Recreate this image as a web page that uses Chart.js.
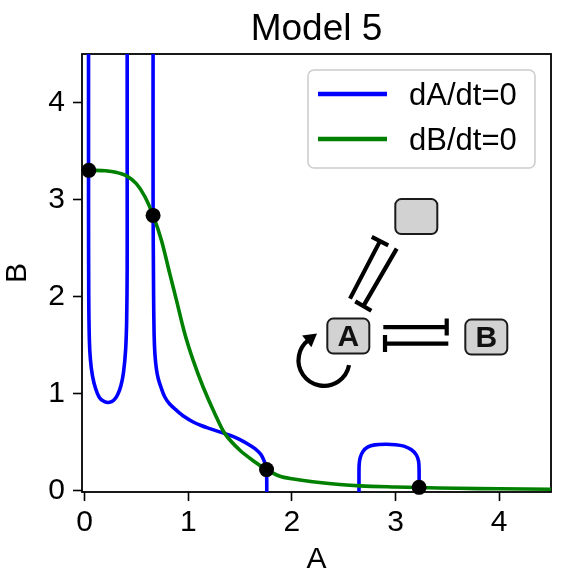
<!DOCTYPE html>
<html>
<head>
<meta charset="utf-8">
<script src="https://cdn.jsdelivr.net/npm/chart.js@4.4.1/dist/chart.umd.min.js"></script>
<style>
  html, body { margin: 0; padding: 0; background: #fff; }
  #wrap { width: 563px; height: 575px; }
</style>
</head>
<body>
<div id="wrap"><canvas id="nullclines"></canvas></div>
<script>
// dA/dt = 0 nullcline, three separate branches
const aBranch1X = [0.037, 0.037, 0.039, 0.045, 0.055, 0.075, 0.105, 0.14, 0.18, 0.22, 0.26, 0.29, 0.32, 0.35, 0.375, 0.395, 0.405, 0.41, 0.41, 0.41];
const aBranch1Y = [4.7, 3.0, 2.0, 1.55, 1.35, 1.18, 1.05, 0.96, 0.92, 0.905, 0.915, 0.94, 0.99, 1.08, 1.22, 1.45, 1.75, 2.3, 3.2, 4.7];

const aBranch2X = [0.66, 0.66, 0.665, 0.67, 0.678, 0.692, 0.71, 0.74, 0.773, 0.82, 0.886, 0.96, 1.047, 1.13, 1.208, 1.28, 1.353, 1.43, 1.498, 1.57, 1.643, 1.7, 1.729, 1.748, 1.755, 1.757, 1.757];
const aBranch2Y = [4.7, 3.0, 2.0, 1.6, 1.4, 1.25, 1.15, 1.05, 0.962, 0.89, 0.825, 0.76, 0.704, 0.665, 0.636, 0.61, 0.584, 0.555, 0.522, 0.48, 0.43, 0.37, 0.309, 0.25, 0.18, 0.08, -0.05];

const aBranch3X = [2.647, 2.647, 2.649, 2.66, 2.685, 2.73, 2.8, 2.9, 3.0, 3.08, 3.15, 3.2, 3.222, 3.227, 3.227];
const aBranch3Y = [-0.05, 0.15, 0.27, 0.34, 0.40, 0.445, 0.468, 0.474, 0.47, 0.455, 0.42, 0.365, 0.3, 0.2, 0.03];

// dB/dt = 0 nullcline
const bNullX = [0.037, 0.1, 0.2, 0.3, 0.4, 0.5, 0.58, 0.66, 0.741, 0.821, 0.886, 0.966, 1.047, 1.143, 1.256, 1.353, 1.498, 1.643, 1.755, 1.884, 2.0, 2.2, 2.46, 2.66, 3.0, 3.227, 3.6, 4.0, 4.5];
const bNullY = [3.30, 3.30, 3.295, 3.28, 3.245, 3.16, 3.03, 2.835, 2.577, 2.234, 1.959, 1.615, 1.34, 1.065, 0.79, 0.584, 0.412, 0.292, 0.213, 0.144, 0.118, 0.088, 0.059, 0.045, 0.034, 0.028, 0.02, 0.015, 0.011];

// fixed points (intersections)
const fixedX = [0.04, 0.66, 1.755, 3.227];
const fixedY = [3.30, 2.835, 0.213, 0.03];

const xTicks = [0, 1, 2, 3, 4];
const yTicks = [0, 1, 2, 3, 4];
const legendLabels = ['dA/dt=0', 'dB/dt=0'];
const titleText = 'Model 5';

const FONT = "'Liberation Sans', Arial, sans-serif";

function pts(xs, ys) {
  return xs.map((x, i) => ({ x: x, y: ys[i] }));
}

function lineSet(label, xs, ys, color, inLegend) {
  return {
    label: label,
    data: pts(xs, ys),
    showLine: true,
    borderColor: color,
    backgroundColor: color,
    borderWidth: 3.6,
    pointRadius: 0,
    tension: 0.3,
    clip: 0,
    order: color === 'blue' ? 2 : 1,
    inLegend: inLegend
  };
}

function roundBox(ctx, cx, cy, w, h, r) {
  const x = cx - w / 2, y = cy - h / 2;
  ctx.beginPath();
  ctx.moveTo(x + r, y);
  ctx.arcTo(x + w, y, x + w, y + h, r);
  ctx.arcTo(x + w, y + h, x, y + h, r);
  ctx.arcTo(x, y + h, x, y, r);
  ctx.arcTo(x, y, x + w, y, r);
  ctx.closePath();
}

// line ending in a flat bar (repression)
function inhibit(ctx, x1, y1, x2, y2, half) {
  const dx = x2 - x1, dy = y2 - y1;
  const len = Math.hypot(dx, dy);
  const nx = -dy / len, ny = dx / len;
  ctx.beginPath();
  ctx.moveTo(x1, y1);
  ctx.lineTo(x2, y2);
  ctx.moveTo(x2 + nx * half, y2 + ny * half);
  ctx.lineTo(x2 - nx * half, y2 - ny * half);
  ctx.stroke();
}

const framePlugin = {
  id: 'frame',
  beforeDatasetsDraw(chart) {
    const { ctx, chartArea: a } = chart;
    ctx.save();
    ctx.strokeStyle = '#000';
    ctx.lineWidth = 1.8;
    ctx.strokeRect(a.left, a.top, a.right - a.left, a.bottom - a.top);
    ctx.restore();
  },
  afterDraw(chart) {
    // title centred over the plot area
    const { ctx, chartArea: a } = chart;
    ctx.save();
    ctx.font = '37px ' + FONT;
    ctx.fillStyle = '#000';
    ctx.textAlign = 'center';
    ctx.textBaseline = 'alphabetic';
    ctx.fillText(titleText, (a.left + a.right) / 2, a.top - 14);
    ctx.restore();
  }
};

const legendBox = {
  id: 'legendBox',
  afterDatasetsDraw(chart) {
    const { ctx, chartArea: a } = chart;
    const sets = legendLabels.map(l => chart.data.datasets.find(d => d.inLegend && d.label === l));
    const left = a.right - 243, top = a.top + 16, w = 227, h = 98;
    ctx.save();
    roundBox(ctx, left + w / 2, top + h / 2, w, h, 6);
    ctx.fillStyle = 'rgba(255,255,255,0.85)';
    ctx.fill();
    ctx.strokeStyle = '#cccccc';
    ctx.lineWidth = 1.5;
    ctx.stroke();
    ctx.font = '31px ' + FONT;
    ctx.textBaseline = 'middle';
    ctx.fillStyle = '#000';
    sets.forEach((d, i) => {
      const y = top + 24 + i * 45;
      ctx.strokeStyle = d.borderColor;
      ctx.lineWidth = 4.5;
      ctx.beginPath();
      ctx.moveTo(left + 10, y);
      ctx.lineTo(left + 79, y);
      ctx.stroke();
      ctx.fillText(d.label, left + 101, y + 2);
    });
    ctx.restore();
  }
};

// network sketch: A auto-activates, A and B repress each other, A and a third node repress each other
const diagram = {
  id: 'diagram',
  afterDatasetsDraw(chart) {
    const { ctx, scales } = chart;
    const ox = scales.x.getPixelForValue(2.544);
    const oy = scales.y.getPixelForValue(1.59);
    ctx.save();
    ctx.translate(ox, oy);
    ctx.lineCap = 'butt';

    const boxes = [[0, 0, 'A'], [138, 1, 'B'], [68, -119.5, '']];
    boxes.forEach(b => {
      roundBox(ctx, b[0], b[1], 42, 35, 6);
      ctx.fillStyle = '#d2d2d2';
      ctx.fill();
      ctx.strokeStyle = '#1a1a1a';
      ctx.lineWidth = 2;
      ctx.stroke();
      if (b[2]) {
        ctx.fillStyle = '#111';
        ctx.font = 'bold 30px ' + FONT;
        ctx.textAlign = 'center';
        ctx.textBaseline = 'middle';
        ctx.fillText(b[2], b[0], b[1] + 1.5);
      }
    });

    ctx.strokeStyle = '#000';
    ctx.lineWidth = 4.2;
    inhibit(ctx, 35, -9, 98.4, -9, 8.5);
    inhibit(ctx, 100, 7.5, 36.7, 7.5, 8.5);
    inhibit(ctx, 1.7, -37.5, 31.7, -95, 9.3);
    inhibit(ctx, 48.4, -87.5, 15, -30, 9.3);

    // self-activation loop
    const cx = -24.3, cy = 24.2, r = 25.5;
    const a0 = 0.19, a1 = 4.05;
    ctx.beginPath();
    ctx.arc(cx, cy, r, a0, a1, false);
    ctx.stroke();
    const px = cx + r * Math.cos(a1), py = cy + r * Math.sin(a1);
    const tx = -Math.sin(a1), ty = Math.cos(a1);
    const rx = Math.cos(a1), ry = Math.sin(a1);
    ctx.fillStyle = '#000';
    ctx.beginPath();
    ctx.moveTo(px + tx * 11, py + ty * 11);
    ctx.lineTo(px - tx * 2 + rx * 7.5, py - ty * 2 + ry * 7.5);
    ctx.lineTo(px - tx * 2 - rx * 7.5, py - ty * 2 - ry * 7.5);
    ctx.closePath();
    ctx.fill();
    ctx.restore();
  }
};

const ctx = document.getElementById('nullclines').getContext('2d');
const chart = new Chart(ctx, {
  type: 'scatter',
  data: {
    datasets: [
      {
        label: 'fixed points',
        data: pts(fixedX, fixedY),
        pointRadius: 7.5,
        pointBackgroundColor: '#000',
        pointBorderWidth: 0,
        showLine: false,
        clip: false,
        order: 0
      },
      lineSet(legendLabels[1], bNullX, bNullY, 'green', true),
      lineSet(legendLabels[0], aBranch1X, aBranch1Y, 'blue', true),
      lineSet(legendLabels[0], aBranch2X, aBranch2Y, 'blue', false),
      lineSet(legendLabels[0], aBranch3X, aBranch3Y, 'blue', false)
    ]
  },
  options: {
    responsive: true,
    maintainAspectRatio: false,
    animation: false,
    events: [],
    layout: { padding: { top: 54, right: 12, bottom: 0, left: 0 } },
    plugins: {
      legend: { display: false },
      tooltip: { enabled: false },
      title: { display: false }
    },
    scales: {
      x: {
        type: 'linear',
        min: -0.026,
        max: 4.5,
        afterBuildTicks: s => { s.ticks = xTicks.map(v => ({ value: v })); },
        afterFit: s => { s.height = 83; },
        ticks: { color: '#000', font: { family: FONT, size: 30 }, padding: 4 },
        grid: { drawOnChartArea: false, tickLength: 9, tickWidth: 1.6, tickColor: '#000' },
        border: { display: false },
        title: { display: true, text: 'A', color: '#000', font: { family: FONT, size: 30, lineHeight: 1 }, padding: { top: 0, bottom: 0 } }
      },
      y: {
        type: 'linear',
        min: -0.018,
        max: 4.5,
        afterBuildTicks: s => { s.ticks = yTicks.map(v => ({ value: v })); },
        afterFit: s => { s.width = 82; },
        ticks: { color: '#000', font: { family: FONT, size: 30 }, padding: 8 },
        grid: { drawOnChartArea: false, tickLength: 9, tickWidth: 1.6, tickColor: '#000' },
        border: { display: false },
        title: { display: true, text: 'B', color: '#000', font: { family: FONT, size: 30, lineHeight: 1 }, padding: { top: 3, bottom: 0 } }
      }
    }
  },
  plugins: [framePlugin, legendBox, diagram]
});
</script>
</body>
</html>
